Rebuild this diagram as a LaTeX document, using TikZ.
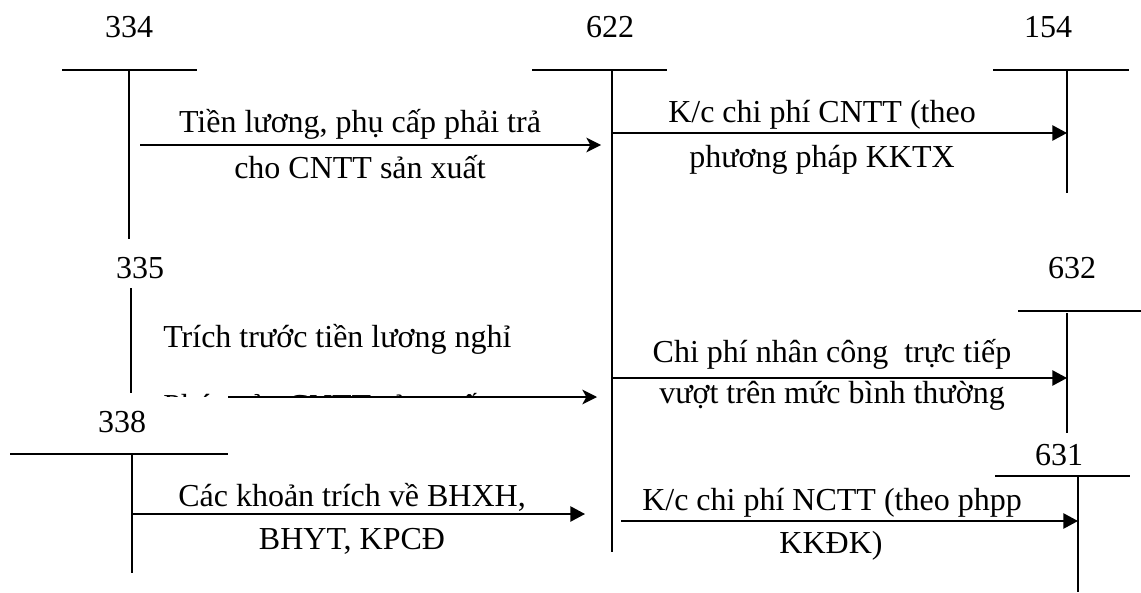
\documentclass[tikz,border=0pt]{standalone}
\usepackage{fontspec}
\setmainfont{Liberation Serif}
\usetikzlibrary{arrows.meta}
\begin{document}
\begin{tikzpicture}[x=0.75pt,y=-0.75pt,
  txt/.style={inner sep=0pt, font=\fontsize{24}{29}\selectfont},
  num/.style={txt},
  acct/.style={line width=1.1pt},
  flowtri/.style={line width=1.1pt, -{Triangle[length=11pt,width=11.5pt]}},
  flowst/.style={line width=1.1pt, -{Stealth[length=11pt,width=11pt,inset=3pt]}}]
\path[use as bounding box] (0,0) rectangle (1141,592);

% account numbers
\node[num] (n334) at (129,27) {334};
\node[num] (n622) at (610,27) {622};
\node[num] (n154) at (1048,27) {154};
\node[num] (n335) at (140,268) {335};
\node[num] (n632) at (1072,268) {632};
\node[num] (n338) at (122,422) {338};
\node[num] (n631) at (1059,455) {631};

% T-account lines
\coordinate (h334a) at (62,70);   \coordinate (h334b) at (197,70);
\coordinate (v334a) at (129,71);  \coordinate (v334b) at (129,239);
\coordinate (h622a) at (532,70);  \coordinate (h622b) at (667,70);
\coordinate (v622a) at (612,71);  \coordinate (v622b) at (612,552);
\coordinate (h154a) at (993,70);  \coordinate (h154b) at (1129,70);
\coordinate (v154a) at (1067,71); \coordinate (v154b) at (1067,193);
\coordinate (v335a) at (131,288); \coordinate (v335b) at (131,393);
\coordinate (h338a) at (10,454);  \coordinate (h338b) at (228,454);
\coordinate (v338a) at (132,455); \coordinate (v338b) at (132,573);
\coordinate (h632a) at (1018,311); \coordinate (h632b) at (1141,311);
\coordinate (v632a) at (1067,313); \coordinate (v632b) at (1067,433);
\coordinate (h631a) at (995,476);  \coordinate (h631b) at (1130,476);
\coordinate (v631a) at (1078,477); \coordinate (v631b) at (1078,592);

\draw[acct] (h334a) -- (h334b); \draw[acct] (v334a) -- (v334b);
\draw[acct] (h622a) -- (h622b); \draw[acct] (v622a) -- (v622b);
\draw[acct] (h154a) -- (h154b); \draw[acct] (v154a) -- (v154b);
\draw[acct] (v335a) -- (v335b);
\draw[acct] (h338a) -- (h338b); \draw[acct] (v338a) -- (v338b);
\draw[acct] (h632a) -- (h632b); \draw[acct] (v632a) -- (v632b);
\draw[acct] (h631a) -- (h631b); \draw[acct] (v631a) -- (v631b);

% flow arrows
\coordinate (a1s) at (140,145);  \coordinate (a1e) at (601,145);
\coordinate (a2s) at (612,133);  \coordinate (a2e) at (1067,133);
\coordinate (a3s) at (228,397);  \coordinate (a3e) at (597,397);
\coordinate (a4s) at (132,514);  \coordinate (a4e) at (585,514);
\coordinate (a5s) at (612,378);  \coordinate (a5e) at (1067,378);
\coordinate (a6s) at (621,521);  \coordinate (a6e) at (1078,521);

\draw[flowst]  (a1s) -- (a1e);
\draw[flowtri] (a2s) -- (a2e);
\draw[flowtri] (a5s) -- (a5e);
\draw[flowtri] (a6s) -- (a6e);
\draw[flowtri] (a4s) -- (a4e);

% labels
\node[txt, anchor=base] (l1a) at (360,132) {Tiền lương, phụ cấp phải trả};
\node[txt, anchor=base] (l1b) at (360,178) {cho CNTT sản xuất};
\node[txt, anchor=base] (l2a) at (822,122) {K/c chi phí CNTT (theo};
\node[txt, anchor=base] (l2b) at (822,167) {phương pháp KKTX};
\node[txt, anchor=base west] (l3a) at (163,347) {Trích trước tiền lương nghỉ};
\begin{scope}
  \clip (150,380) rectangle (600,396);
  \node[txt, anchor=base west] (l3b) at (163,416) {Phép của CNTT sản xuất};
\end{scope}
\draw[flowst]  (a3s) -- (a3e);
\node[txt, anchor=base] (l4a) at (352,506) {Các khoản trích về BHXH,};
\node[txt, anchor=base] (l4b) at (352,549) {BHYT, KPCĐ};
\node[txt, anchor=base] (l5a) at (832,362) {Chi phí nhân công\ \ trực tiếp};
\node[txt, anchor=base] (l5b) at (832,403) {vượt trên mức bình thường};
\node[txt, anchor=base] (l6a) at (832,510) {K/c chi phí NCTT (theo phpp};
\node[txt, anchor=base] (l6b) at (831,553) {KKĐK)};
\end{tikzpicture}
\end{document}
